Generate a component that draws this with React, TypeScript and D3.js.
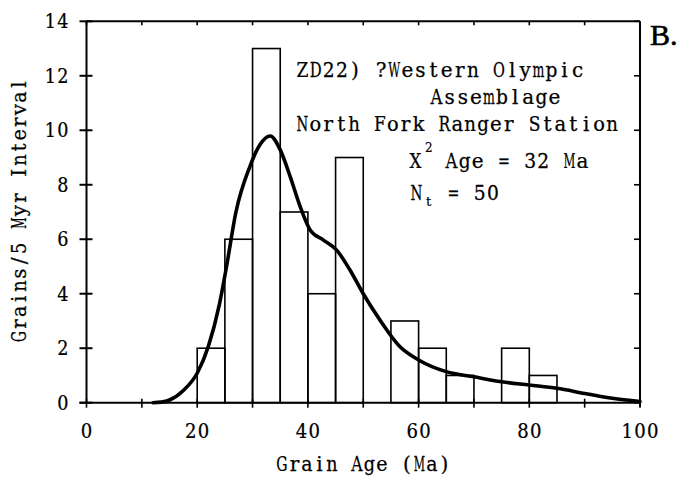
import React from "react";
import * as d3 from "d3";

const binStarts = [20, 25, 30, 35, 40, 45, 50, 55, 60, 65, 70, 75, 80];
const binCounts = [2, 6, 13, 7, 4, 9, 0, 3, 2, 1, 0, 2, 1];
const binWidth = 5;

const curveAges = [12, 13.5, 15, 17.5, 20, 22, 24, 25.3, 27, 29.5, 31.3, 33.2, 35, 36.8, 38.6, 40.4, 42.8, 45.2, 47.6, 50, 53, 56.6, 60, 65, 70, 75, 80, 85, 90, 95, 100];
const curveDensity = [0, 0.02, 0.1, 0.45, 1.08, 2.06, 3.6, 5.0, 7.0, 8.66, 9.46, 9.79, 9.28, 8.3, 7.2, 6.34, 5.97, 5.6, 4.87, 4.0, 3.04, 2.06, 1.57, 1.14, 0.95, 0.77, 0.65, 0.53, 0.34, 0.16, 0.04];

const xTickValues = [0, 20, 40, 60, 80, 100];
const xMinorTicks = [0, 10, 20, 30, 40, 50, 60, 70, 80, 90, 100];
const yTickValues = [0, 2, 4, 6, 8, 10, 12, 14];

const annotationLines = ["ZD22) ?Western Olympic", "Assemblage", "North Fork Ranger Station"];

const FONT = "'DejaVu Serif', 'Liberation Serif', serif";
const CW = 13.1;

let measureCtx: CanvasRenderingContext2D | null = null;
function measure(c: string, size: number): number {
  if (typeof document === "undefined") return size * 0.6;
  if (!measureCtx) {
    const cv = document.createElement("canvas");
    measureCtx = cv.getContext("2d");
  }
  if (!measureCtx) return size * 0.6;
  measureCtx.font = `${size}px 'DejaVu Serif'`;
  return measureCtx.measureText(c).width;
}

function MonoText({ x, y, text, anchor = "start", size = 20, cw = CW, rotate = 0 }: any) {
  const n = text.length;
  const start = anchor === "middle" ? x - (n * cw) / 2 : anchor === "end" ? x - n * cw : x;
  const chars = text.split("");
  const maxW = cw - 1.2;
  return (
    <g transform={rotate ? `rotate(${rotate} ${x} ${y})` : undefined}>
      {chars.map((c: string, i: number) => {
        if (c === " ") return null;
        const w = measure(c, size);
        const sx = w > maxW ? maxW / w : 1;
        const cx = start + i * cw + cw / 2;
        return (
          <text
            key={i}
            transform={`translate(${cx.toFixed(2)} ${y}) scale(${sx.toFixed(3)} 1)`}
            textAnchor="middle"
            fontFamily={FONT}
            fontSize={size}
            fill="#000"
            stroke="#000"
            strokeWidth={0.25}
          >
            {c}
          </text>
        );
      })}
    </g>
  );
}

export default function App() {
  const W = 689;
  const H = 478;
  const x = d3.scaleLinear().domain([0, 100]).range([86.5, 640]);
  const y = d3.scaleLinear().domain([0, 14]).range([402.7, 21.3]);

  const line = d3
    .line<number>()
    .x((_, i) => x(curveAges[i]))
    .y((d) => y(d))
    .curve(d3.curveMonotoneX);

  const x0 = x(0), x1 = x(100), y0 = y(0), y1 = y(14);

  return (
    <svg width={W} height={H} style={{ position: "absolute", left: 0, top: 0, background: "#fff" }}>
      <rect x={0} y={0} width={W} height={H} fill="#fff" />
      {/* bars */}
      {binStarts.map((s, i) =>
        binCounts[i] > 0 ? (
          <rect
            key={i}
            x={x(s)}
            y={y(binCounts[i])}
            width={x(s + binWidth) - x(s)}
            height={y0 - y(binCounts[i])}
            fill="none"
            stroke="#000"
            strokeWidth={1.6}
          />
        ) : null
      )}
      {/* frame */}
      <line x1={x0} y1={y1} x2={x1} y2={y1} stroke="#000" strokeWidth={2} />
      <line x1={x1} y1={y1} x2={x1} y2={y0 + 4} stroke="#000" strokeWidth={2} />
      <line x1={x0} y1={y1} x2={x0} y2={y0} stroke="#000" strokeWidth={2} />
      <line x1={x0 - 7} y1={y0} x2={x1} y2={y0} stroke="#000" strokeWidth={2} />
      {/* y ticks */}
      {yTickValues.map((v) => (
        <g key={"y" + v}>
          <line x1={x0 - 7} x2={x0 + 6} y1={y(v)} y2={y(v)} stroke="#000" strokeWidth={2} />
          <line x1={x1 - 6} x2={x1} y1={y(v)} y2={y(v)} stroke="#000" strokeWidth={1.6} />
          <MonoText x={69} y={y(v) + 7} text={String(v)} anchor="end" cw={12.4} />
        </g>
      ))}
      {/* x ticks */}
      {xMinorTicks.map((v) => (
        <g key={"x" + v}>
          <line x1={x(v)} x2={x(v)} y1={y0 - 4} y2={y0 + 5} stroke="#000" strokeWidth={1.6} />
          <line x1={x(v)} x2={x(v)} y1={y1} y2={y1 + 4} stroke="#000" strokeWidth={1.6} />
        </g>
      ))}
      {xTickValues.map((v) => (
        <MonoText key={"xl" + v} x={x(v)} y={438} text={String(v)} anchor="middle" cw={12.7} />
      ))}
      {/* density curve */}
      <path d={line(curveDensity) || ""} fill="none" stroke="#000" strokeWidth={3.6} strokeLinejoin="round" strokeLinecap="round" />
      {/* axis titles */}
      <MonoText x={x(50)} y={471} text="Grain Age (Ma)" anchor="middle" cw={12.5} />
      <MonoText x={26} y={210.5} text="Grains/5 Myr Interval" anchor="middle" cw={12.6} rotate={-90} />
      {/* annotations */}
      <MonoText x={296} y={77} text={annotationLines[0]} />
      <MonoText x={430} y={104} text={annotationLines[1]} />
      <MonoText x={296} y={131} text={annotationLines[2]} cw={12.9} />
      <MonoText x={409} y={168} text="X" />
      <text x={425} y={152} fontFamily={FONT} fontSize={12} fill="#000" stroke="#000" strokeWidth={0.2}>2</text>
      <MonoText x={445} y={168} text="Age = 32 Ma" />
      <MonoText x={410} y={200} text="N" />
      <text x={426} y={206} fontFamily={FONT} fontSize={13} fill="#000" stroke="#000" strokeWidth={0.2}>t</text>
      <MonoText x={447} y={200} text="= 50" />
      <text x={650} y={45} fontFamily="'Liberation Serif', serif" fontSize={30} fill="#000" stroke="#000" strokeWidth={0.6}>B.</text>
    </svg>
  );
}
